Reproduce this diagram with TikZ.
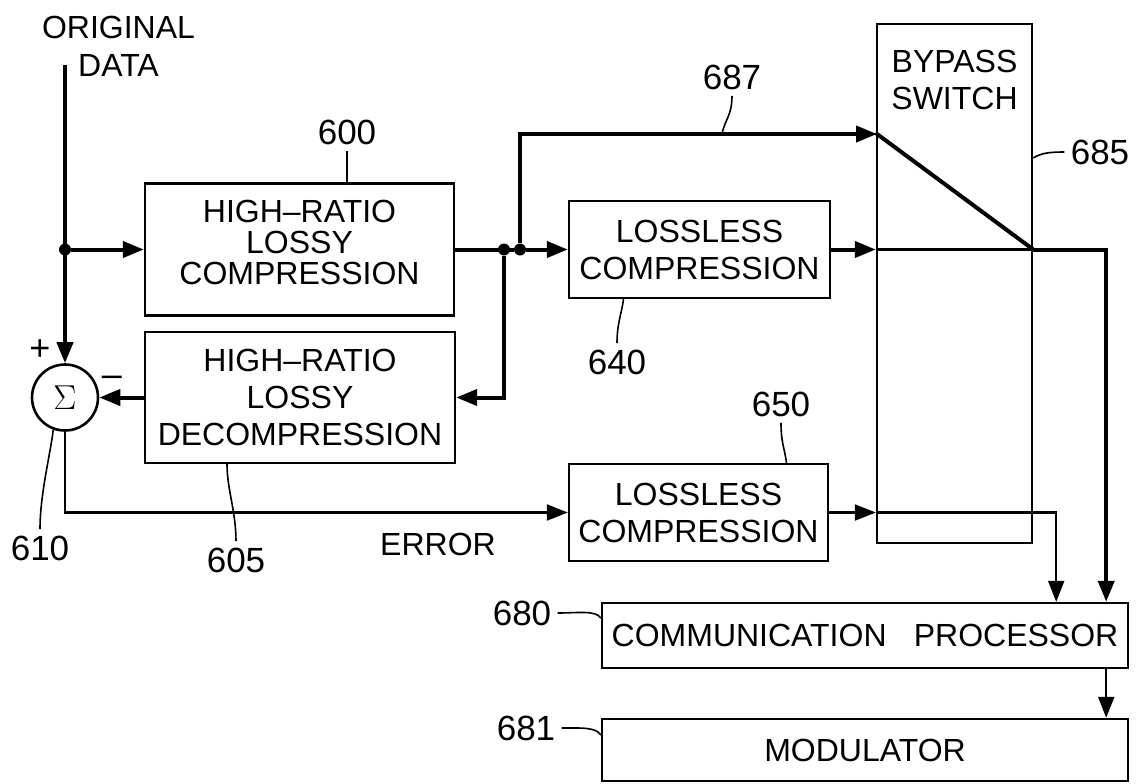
\documentclass[tikz,border=0pt]{standalone}
\usepackage{fontspec}
\setmainfont{Liberation Sans}
\usetikzlibrary{arrows.meta,positioning}

\begin{document}
\begin{tikzpicture}[x=0.5pt, y=-0.5pt, >={Triangle[length=10.5pt,width=8pt]},
    block/.style={draw, line width=1.2pt, inner sep=0pt, align=center, font=\fontsize{16}{18.5}\selectfont},
    tag/.style={inner sep=3pt, font=\fontsize{17.5}{17.5}\selectfont},
    heavy/.style={line width=2pt},
    light/.style={line width=1.1pt},
    leader/.style={line width=0.8pt},
    dot/.style={circle, fill, inner sep=0pt, minimum size=6pt}]
    \useasboundingbox (0,0) rectangle (1141,783);

    % Blocks
    \node[block, minimum width=154.5pt, minimum height=66pt, text depth=7pt, font=\fontsize{16}{15.5}\selectfont] (lossy) at (299.5,249.5) {HIGH--RATIO\\LOSSY\\COMPRESSION};
    \node[block, minimum width=155pt, minimum height=65.5pt] (decomp) at (300,397.5) {HIGH--RATIO\\LOSSY\\DECOMPRESSION};
    \node[block, minimum width=130.5pt, minimum height=48.5pt] (ll1) at (699.5,249.5) {LOSSLESS\\COMPRESSION};
    \node[block, minimum width=129.5pt, minimum height=48.5pt] (ll2) at (698.5,512.5) {LOSSLESS\\COMPRESSION};
    \node[block, minimum width=77.5pt, minimum height=259.5pt] (bypass) at (954.5,283.5) {};
    \node[align=center, inner sep=0pt, font=\fontsize{16}{18.5}\selectfont] (bptext) at (954.5,80) {BYPASS\\SWITCH};
    \node[block, minimum width=263pt, minimum height=32.5pt] (comm) at (865,635.5) {COMMUNICATION\hspace{0.85em}PROCESSOR};
    \node[block, minimum width=263pt, minimum height=31pt] (mod) at (865,750) {MODULATOR};

    % Summing point
    \node[circle, draw, line width=1.3pt, minimum size=33pt, inner sep=0pt, font=\fontsize{18}{18}\selectfont] (sum) at (65,397.5) {$\Sigma$};
    \node[inner sep=0pt, font=\fontsize{18}{18}\selectfont] (plus) at (40,350) {+};
    \node[inner sep=0pt, font=\fontsize{18}{18}\selectfont] (minus) at (112,381) {--};

    % Input
    \node[align=center, inner sep=0pt, font=\fontsize{16}{19}\selectfont] (orig) at (118.5,46) {ORIGINAL\\DATA};
    \coordinate (src) at (65,65);
    \draw[heavy,->] (src) -- (sum.north);
    \node[dot] (j0) at (65,249.5) {};
    \draw[heavy,->] (j0) -- (lossy.west);

    % Split after lossy compression
    \node[dot] (j1) at (504,249.5) {};
    \node[dot] (j2) at (520,249.5) {};
    \draw[heavy] (lossy.east) -- (j2);
    \draw[heavy,->] (j2) -- (ll1.west);
    \draw[heavy,->] (j1) |- (decomp.east);
    \draw[heavy,->] (decomp.west) -- (sum.east);

    % Bypass switch
    \coordinate (swA) at (877,134);
    \coordinate (swB) at (bypass.west |- ll1.east);
    \coordinate (swC) at (bypass.east |- ll1.east);
    \coordinate (swD) at (bypass.west |- ll2.east);
    \draw[heavy,->] (j2) |- (swA);
    \draw[heavy,->] (ll1.east) -- (swB);
    \draw[heavy, line cap=round] (swA) -- (swC);
    \draw[light] (swB) -- (swC);
    \draw[heavy,->] (swC) -| ([xshift=-11.5pt]comm.north east);

    % Error path
    \node[inner sep=0pt, font=\fontsize{16}{16}\selectfont] (err) at (438,544) {ERROR};
    \draw[light,->] (sum.south) |- (ll2.west);
    \draw[light,->] (ll2.east) -- (swD);
    \draw[light,->] (swD) -| ([xshift=-36.5pt]comm.north east);
    \draw[light,->] ([xshift=-11.5pt]comm.south east) -- ([xshift=-11.5pt]mod.north east);

    % Reference numerals
    \node[tag] (l600) at (347,132) {600};
    \node[tag] (l605) at (236,560) {605};
    \node[tag] (l610) at (40,548) {610};
    \node[tag] (l640) at (617,362) {640};
    \node[tag] (l650) at (781,404) {650};
    \node[tag] (l687) at (732,77) {687};
    \node[tag] (l685) at (1100,152) {685};
    \node[tag] (l680) at (522,613) {680};
    \node[tag] (l681) at (526,728) {681};
    \coordinate (t687) at (722,134);

    \draw[leader] (l600.south) -- (l600.south |- lossy.north);
    \draw[leader] (l605.north) .. controls +(0,-30) and +(0,25) .. ([xshift=-36.5pt]decomp.south);
    \draw[leader] (l610.north) .. controls +(0,-35) and +(-3,25) .. (sum.250);
    \draw[leader] (l640.north) .. controls +(0,-20) and +(-2,15) .. ([xshift=-38pt]ll1.south);
    \draw[leader] (l650.south) .. controls +(0,20) and +(-2,-15) .. ([xshift=44pt]ll2.north);
    \draw[leader] (l687.south) .. controls +(0,20) and +(3,-15) .. (t687);
    \draw[leader] (l685.west) .. controls +(-15,0) and +(8,-5) .. ([yshift=62.75pt]bypass.east);
    \draw[leader] (l680.east) .. controls +(20,0) and +(-5,-8) .. ([yshift=8.75pt]comm.west);
    \draw[leader] (l681.east) .. controls +(20,0) and +(-5,-8) .. ([yshift=7.5pt]mod.west);
\end{tikzpicture}
\end{document}
